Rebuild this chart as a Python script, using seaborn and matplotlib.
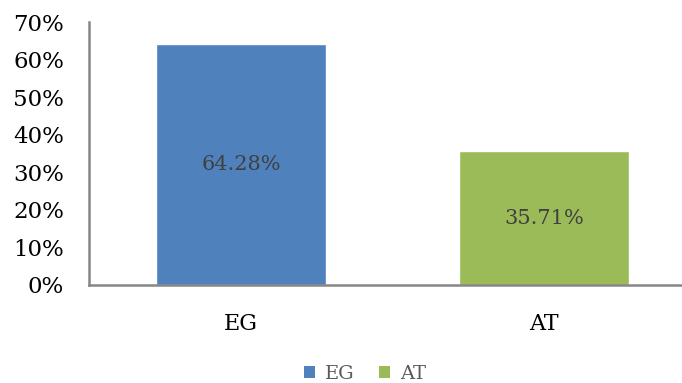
import matplotlib
matplotlib.use("Agg")
import matplotlib.pyplot as plt
from matplotlib.patches import Patch
from matplotlib.ticker import FuncFormatter
import seaborn as sns
import pandas as pd

categories = ["EG", "AT"]
shares = [64.28, 35.71]
colors = ["#4F81BD", "#9BBB59"]
y_ticks = [0, 10, 20, 30, 40, 50, 60, 70]

sns.set_style("white")
plt.rcParams["font.family"] = ["DejaVu Serif"]

df = pd.DataFrame({"group": categories, "share": shares})

fig = plt.figure(figsize=(6.82, 3.83), dpi=100)
ax = fig.add_axes([0.1305, 0.2559, 0.8695, 0.6854])

sns.barplot(data=df, x="group", y="share", hue="group", palette=colors,
            width=0.56, legend=False, ax=ax, saturation=1)

for patch, val in zip(ax.patches, shares):
    cx = patch.get_x() + patch.get_width() / 2
    ax.text(cx, val / 2, f"{val:.2f}%", ha="center", va="center",
            fontsize=15, color="#404040")

ax.set_ylim(0, 70)
ax.set_xlim(-0.502, 1.455)
ax.set_yticks(y_ticks)
ax.yaxis.set_major_formatter(FuncFormatter(lambda v, p: f"{v:.0f}%"))
ax.tick_params(axis="y", length=0, labelsize=16.5, pad=18, labelcolor="black")
ax.tick_params(axis="x", length=0, labelsize=16, pad=20, labelcolor="black")
for lbl in ax.get_yticklabels():
    lbl.set_horizontalalignment("right")
ax.set_xlabel("")
ax.set_ylabel("")
ax.grid(False)
for side in ["top", "right"]:
    ax.spines[side].set_visible(False)
for side in ["left", "bottom"]:
    ax.spines[side].set_color("#868686")
    ax.spines[side].set_linewidth(1.8)

handles = [Patch(facecolor=c, edgecolor="none", label=n) for c, n in zip(colors, categories)]
fig.legend(handles=handles, loc="center", bbox_to_anchor=(365 / 682, 1 - 374 / 383),
           ncol=2, frameon=False, fontsize=14, handlelength=0.55, handleheight=0.55,
           handletextpad=0.5, columnspacing=1.3, labelcolor="#595959")

fig.savefig("out.png", dpi=100)
